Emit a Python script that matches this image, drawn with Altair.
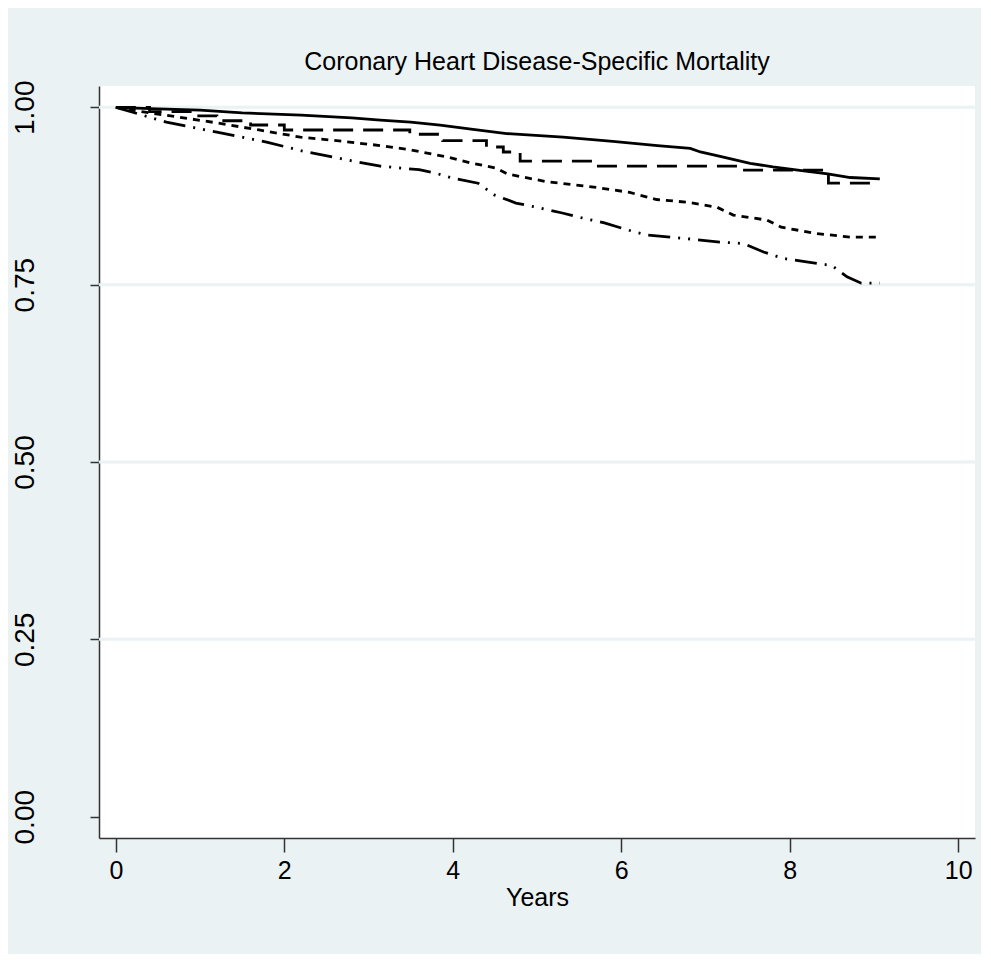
import altair as alt
import pandas as pd

# ---- data ----
s1_t = [0, 0.4, 1.0, 1.5, 2.2, 2.8, 3.14, 3.5, 3.85, 4.24, 4.64, 5.31, 5.9, 6.43, 6.82, 6.94, 7.2, 7.53, 7.8, 8.12, 8.45, 8.72, 9.07]
s1_v = [1.0, 0.998, 0.996, 0.992, 0.989, 0.985, 0.982, 0.979, 0.975, 0.969, 0.963, 0.958, 0.952, 0.946, 0.942, 0.937, 0.930, 0.921, 0.916, 0.911, 0.906, 0.901, 0.899]

s2_t = [0, 0.4, 0.9, 1.2, 1.6, 2.0, 3.49, 3.88, 4.4, 4.6, 4.8, 5.67, 7.43, 8.46, 9.07]
s2_v = [1.0, 0.994, 0.988, 0.981, 0.975, 0.968, 0.962, 0.953, 0.944, 0.937, 0.924, 0.917, 0.9115, 0.893, 0.893]

s3_t = [0, 0.3, 0.7, 1.2, 1.7, 2.19, 2.7, 3.14, 3.5, 3.93, 4.2, 4.52, 4.65, 5.12, 5.71, 6.1, 6.42, 6.8, 7.14, 7.33, 7.73, 7.9, 8.32, 8.72, 9.07]
s3_v = [1.0, 0.994, 0.987, 0.978, 0.968, 0.958, 0.952, 0.946, 0.940, 0.930, 0.922, 0.914, 0.906, 0.895, 0.887, 0.880, 0.870, 0.866, 0.859, 0.848, 0.841, 0.831, 0.822, 0.817, 0.817]

s4_t = [0, 0.2, 0.6, 1.2, 1.79, 2.19, 2.78, 3.14, 3.6, 3.8, 4.0, 4.3, 4.5, 4.75, 5.0, 5.3, 5.5, 5.8, 6.05, 6.3, 6.85, 7.17, 7.45, 7.69, 7.92, 8.2, 8.5, 8.68, 8.85, 9.07]
s4_v = [1.0, 0.993, 0.979, 0.965, 0.951, 0.939, 0.925, 0.917, 0.912, 0.907, 0.900, 0.893, 0.876, 0.865, 0.859, 0.851, 0.845, 0.837, 0.828, 0.820, 0.814, 0.810, 0.808, 0.796, 0.787, 0.782, 0.777, 0.761, 0.752, 0.752]

x_ticks = [0, 2, 4, 6, 8, 10]
y_ticks = [0.0, 0.25, 0.5, 0.75, 1.0]
grid_vals = [0.25, 0.5, 0.75, 1.0]

title_text = "Coronary Heart Disease-Specific Mortality"
x_title = "Years"

BG = "#EAF2F3"
SANS = "Liberation Sans, Arial, sans-serif"

rows = []
for name, ts, vs in [("g1", s1_t, s1_v), ("g2", s2_t, s2_v), ("g3", s3_t, s3_v), ("g4", s4_t, s4_v)]:
    for t, v in zip(ts, vs):
        rows.append({"group": name, "t": t, "s": v})
df = pd.DataFrame(rows)

xscale = alt.Scale(domain=[-0.2, 10.2], nice=False, zero=False)
yscale = alt.Scale(domain=[-0.03, 1.03], nice=False, zero=False)

xaxis = alt.Axis(values=x_ticks, format="d", title=x_title, grid=False,
                 domainColor="#333333", domainWidth=1.5, tickColor="#333333", tickWidth=1.5,
                 tickSize=14, labelFont=SANS, labelFontSize=25, labelColor="black",
                 labelPadding=6, titleFont=SANS, titleFontSize=25, titleFontWeight="normal",
                 titleColor="black", titlePadding=2)
yaxis = alt.Axis(values=y_ticks, format=".2f", title=None, grid=False,
                 domainColor="#333333", domainWidth=1.5, tickColor="#333333", tickWidth=1.5,
                 tickSize=9, labelFont=SANS, labelFontSize=28, labelColor="black",
                 labelAngle=-90, labelAlign="center", labelBaseline="bottom", labelPadding=51)

grid = alt.Chart(pd.DataFrame({"g": grid_vals})).mark_rule(color=BG, strokeWidth=3).encode(
    y=alt.Y("g:Q", scale=yscale, axis=yaxis)
)

styles = {
    "g1": ([], "linear"),
    "g2": ([20, 10], "step-after"),
    "g3": ([7, 6], "linear"),
    "g4": ([22, 8, 2, 8, 2, 8], "linear"),
}

layers = [grid]
for name in ["g1", "g2", "g3", "g4"]:
    dash, interp = styles[name]
    mk = dict(color="black", strokeWidth=2.8, interpolate=interp)
    if dash:
        mk["strokeDash"] = dash
    layers.append(
        alt.Chart(df[df.group == name]).mark_line(**mk).encode(
            x=alt.X("t:Q", scale=xscale, axis=xaxis),
            y=alt.Y("s:Q", scale=yscale, axis=yaxis),
        )
    )

chart = alt.layer(*layers).properties(
    width=876,
    height=752,
    background=BG,
    padding={"left": 91, "top": 78, "right": 6, "bottom": 116},
    autosize=alt.AutoSizeParams(type="none"),
    title=alt.TitleParams(title_text, font=SANS, fontSize=25, fontWeight="normal",
                          color="black", anchor="middle", offset=5),
).configure_view(fill="white", strokeWidth=0)

chart.save("out.html", embed_options={"renderer": "svg", "actions": False})
